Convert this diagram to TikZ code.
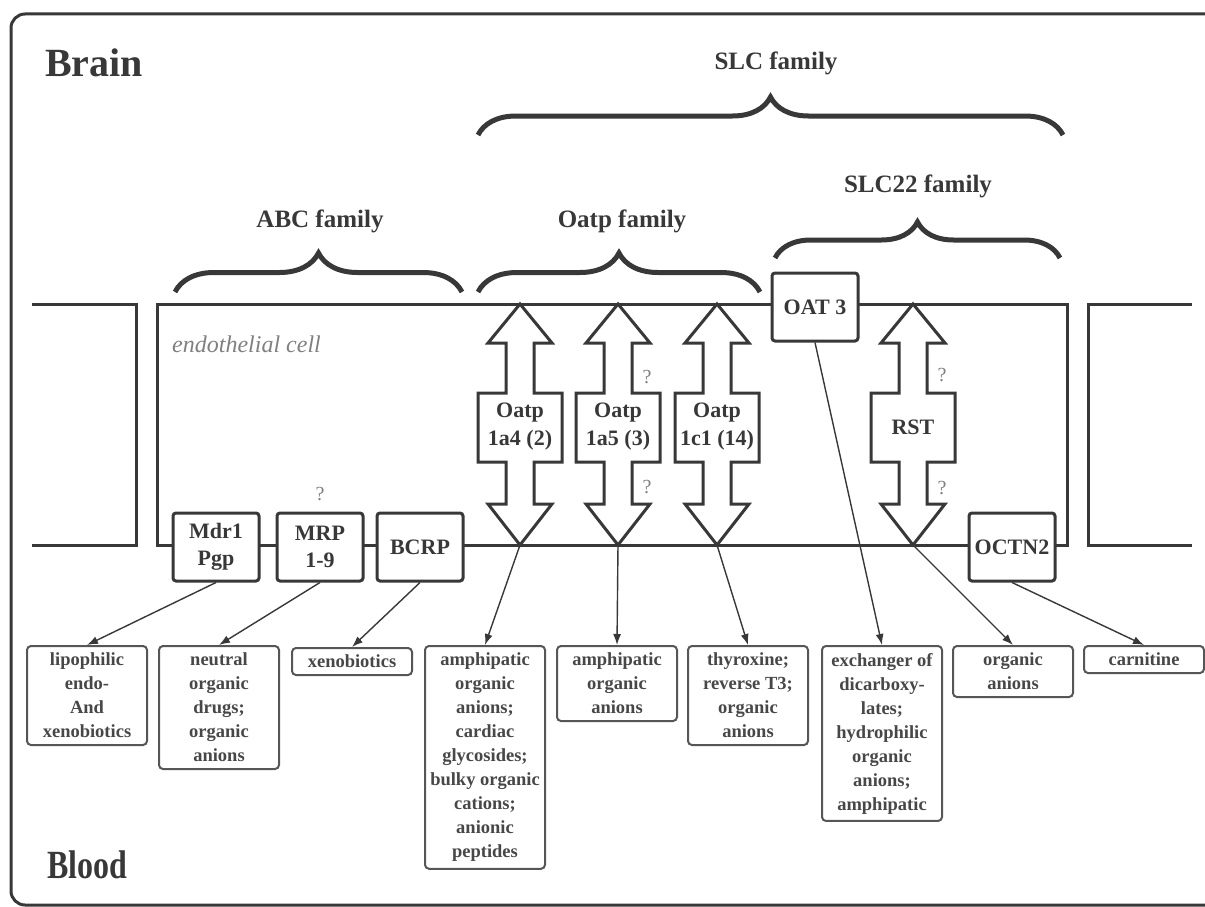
\documentclass[tikz,border=0pt]{standalone}
\usepackage{fontspec}
\setmainfont{Liberation Serif}
\newfontfamily\narrowfont{Liberation Serif}[FakeStretch=0.8]
\usetikzlibrary{decorations.pathreplacing,arrows.meta}

\definecolor{memb}{rgb}{0.22,0.22,0.22}
\definecolor{subst}{rgb}{0.28,0.28,0.28}

\tikzset{
  carrier/.style={draw=memb, line width=3pt, fill=white, rounded corners=3pt, align=center,
    inner sep=0pt, minimum width=86pt, minimum height=68pt,
    font=\bfseries\fontsize{22}{27}\selectfont, text=memb},
  oatplab/.style={align=center, inner sep=0pt, font=\bfseries\fontsize{22}{28}\selectfont, text=memb},
  result/.style={draw=memb!85, line width=2pt, rounded corners=4pt, align=center, anchor=north,
    minimum width=120pt, inner xsep=2pt, inner ysep=7pt,
    font=\bfseries\fontsize{18.5}{24}\selectfont, text=subst},
  famlabel/.style={anchor=base, inner sep=0pt, font=\bfseries\fontsize{25}{30}\selectfont, text=memb},
  qmark/.style={inner sep=0pt, text=gray, font=\fontsize{20}{24}\selectfont},
  famb/.style={decorate, decoration={brace, amplitude=#1}, line width=5pt, draw=memb},
  link/.style={-{Latex[length=11pt,width=8pt]}, line width=1.4pt, draw=memb}
}

% double headed transporter at x = #1, bottom tip coordinate #2
\newcommand{\oatparrow}[2]{%
  \draw[memb, line width=3pt, fill=white, line join=miter]
    (#1,304)--++(32,39)--++(-18,0)--++(0,50)--++(28,0)--++(0,69)--++(-28,0)--++(0,42)--++(18,0)
    --(#1,545)--++(-32,-41)--++(18,0)--++(0,-42)--++(-28,0)--++(0,-69)--++(28,0)--++(0,-50)--++(-18,0)--cycle;
  \coordinate (#2) at (#1,545);}

\begin{document}
\begin{tikzpicture}[x=1pt, y=-1pt]
\useasboundingbox (0,0) rectangle (1205,907);

\draw[memb, line width=3pt, rounded corners=14pt] (1240,14) -- (11,14) -- (11,905) -- (1240,905);

\node[anchor=base west, inner sep=0pt, text=memb, font=\bfseries\fontsize{40}{44}\selectfont] (brain) at (45,77) {Brain};
\node[anchor=base west, inner sep=0pt, text=memb, font=\narrowfont\bfseries\fontsize{40}{44}\selectfont] (blood) at (47,878) {Blood};

% families
\node[famlabel] (slclab) at (776,70) {SLC family};
\draw[famb=38pt] (478,135) -- (1063,135);
\node[famlabel] (abclab) at (320,227) {ABC family};
\draw[famb=39pt] (175,292) -- (462,292);
\node[famlabel] (oatplab) at (622,227) {Oatp family};
\draw[famb=39pt] (478,292) -- (760,292);
\node[famlabel] (slc22lab) at (918,192) {SLC22 family};
\draw[famb=36pt] (775,258) -- (1060,258);

% cells
\draw[memb, line width=3pt] (32,304) -- (136,304) -- (136,545) -- (32,545);
\draw[memb, line width=3pt] (1192,304) -- (1088,304) -- (1088,545) -- (1192,545);
\draw[memb, line width=3pt] (157,304) rectangle (1067,545);
\node[anchor=base west, inner sep=0pt, text=gray, font=\itshape\fontsize{24}{28}\selectfont] (endo) at (172,352) {endothelial cell};

% transporters
\oatparrow{520}{tipa}
\oatparrow{618}{tipb}
\oatparrow{717}{tipc}
\oatparrow{913}{tipd}
\node[oatplab] (oatpa) at (520,427) {Oatp\\1a4 (2)};
\node[oatplab] (oatpb) at (618,427) {Oatp\\1a5 (3)};
\node[oatplab] (oatpc) at (717,427) {Oatp\\1c1 (14)};
\node[oatplab] (rst) at (913,427) {RST};
\node[qmark] (qb1) at (647,377) {?};
\node[qmark] (qb2) at (647,487) {?};
\node[qmark] (qd1) at (942,375) {?};
\node[qmark] (qd2) at (942,488) {?};

\node[carrier] (mdr) at (216,547) {Mdr1\\Pgp};
\node[carrier] (mrp) at (320,547) {MRP\\1-9};
\node[carrier] (bcrp) at (420,547) {BCRP};
\node[qmark] (qmrp) at (320,494) {?};
\node[carrier] (oat) at (815,307) {OAT 3};
\node[carrier] (octn) at (1012,547) {OCTN2};

% substrates
\node[result] (lipo) at (87,645) {lipophilic\\endo-\\And\\xenobiotics};
\node[result] (neutral) at (219,645) {neutral\\organic\\drugs;\\organic\\anions};
\node[result] (xeno) at (352,647) {xenobiotics};
\node[result] (amphia) at (485,645) {amphipatic\\organic\\anions;\\cardiac\\glycosides;\\bulky organic\\cations;\\anionic\\peptides};
\node[result] (amphib) at (617,645) {amphipatic\\organic\\anions};
\node[result] (thyro) at (748,645) {thyroxine;\\reverse T3;\\organic\\anions};
\node[result] (exch) at (882,645) {exchanger of\\dicarboxy-\\lates;\\hydrophilic\\organic\\anions;\\amphipatic};
\node[result] (organ) at (1013,645) {organic\\anions};
\node[result] (carn) at (1144,645) {carnitine};

\draw[link] (mdr.south) -- (lipo.north);
\draw[link] (mrp.south) -- (neutral.north);
\draw[link] (bcrp.south) -- (xeno.north);
\draw[link] (tipa) -- (amphia.north);
\draw[link] (tipb) -- (amphib.north);
\draw[link] (tipc) -- (thyro.north);
\draw[link] (oat.south) -- (exch.north);
\draw[link] (tipd) -- (organ.north);
\draw[link] (octn.south) -- (carn.north);

\end{tikzpicture}
\end{document}
